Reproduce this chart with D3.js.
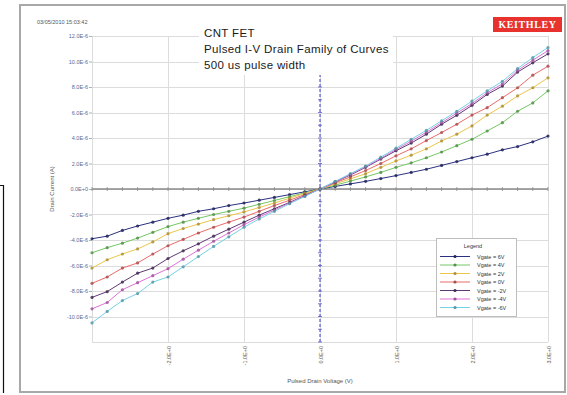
<!DOCTYPE html>
<html>
<head>
<meta charset="utf-8">
<script src="https://cdn.jsdelivr.net/npm/d3@7"></script>
<style>
  html, body { margin: 0; padding: 0; background: #fff; }
  svg { display: block; font-family: "Liberation Sans", Arial, sans-serif; }
</style>
</head>
<body>
<svg id="chart" width="567" height="395"></svg>
<script>
// Drain voltage sweep (V)
const drainVoltage = [-3.0, -2.8, -2.6, -2.4, -2.2, -2.0, -1.8, -1.6, -1.4, -1.2, -1.0,
  -0.8, -0.6, -0.4, -0.2, 0.0, 0.2, 0.4, 0.6, 0.8, 1.0,
  1.2, 1.4, 1.6, 1.8, 2.0, 2.2, 2.4, 2.6, 2.8, 3.0];

// Drain current per gate bias (µA)
const idVg6 = [-3.9, -3.7, -3.25, -2.9, -2.6, -2.3, -2.05, -1.75, -1.55, -1.3, -1.1,
  -0.88, -0.66, -0.44, -0.22, 0, 0.2, 0.4, 0.6, 0.82, 1.05,
  1.3, 1.55, 1.85, 2.15, 2.45, 2.73, 3.07, 3.33, 3.7, 4.15];
const idVg4 = [-5.0, -4.6, -4.25, -3.85, -3.4, -2.95, -2.6, -2.3, -2.0, -1.75, -1.5,
  -1.2, -0.9, -0.6, -0.3, 0, 0.3, 0.62, 0.95, 1.3, 1.7,
  2.05, 2.45, 2.9, 3.4, 3.9, 4.55, 5.2, 6.1, 6.75, 7.7];
const idVg2 = [-6.2, -5.55, -5.1, -4.7, -4.15, -3.5, -3.1, -2.75, -2.4, -2.1, -1.8,
  -1.45, -1.1, -0.72, -0.36, 0, 0.4, 0.8, 1.2, 1.7, 2.2,
  2.65, 3.15, 3.77, 4.3, 4.95, 5.8, 6.5, 7.3, 7.94, 8.72];
const idVg0 = [-7.4, -6.9, -6.2, -5.8, -5.1, -4.45, -3.95, -3.45, -3.0, -2.6, -2.2,
  -1.75, -1.3, -0.88, -0.44, 0, 0.48, 0.95, 1.45, 2.0, 2.6,
  3.15, 3.8, 4.43, 5.08, 5.8, 6.38, 7.16, 7.94, 8.93, 9.63];
const idVgm2 = [-8.5, -8.05, -7.3, -6.6, -6.2, -5.45, -4.85, -4.3, -3.7, -3.15, -2.6,
  -2.05, -1.55, -1.05, -0.52, 0, 0.55, 1.1, 1.7, 2.35, 3.0,
  3.6, 4.3, 5.08, 5.78, 6.56, 7.42, 8.07, 9.17, 9.9, 10.6];
const idVgm4 = [-9.4, -8.9, -7.9, -7.35, -6.8, -6.25, -5.5, -4.8, -4.1, -3.45, -2.8,
  -2.2, -1.65, -1.1, -0.55, 0, 0.57, 1.15, 1.75, 2.4, 3.1,
  3.75, 4.45, 5.2, 5.95, 6.7, 7.55, 8.25, 9.3, 10.1, 10.85];
const idVgm6 = [-10.5, -9.6, -8.75, -8.2, -7.3, -6.9, -6.1, -5.3, -4.5, -3.75, -3.0,
  -2.35, -1.75, -1.15, -0.58, 0, 0.6, 1.2, 1.8, 2.5, 3.2,
  3.9, 4.6, 5.35, 6.1, 6.9, 7.7, 8.45, 9.45, 10.3, 11.1];

const seriesNames = ["Vgate = 6V", "Vgate = 4V", "Vgate = 2V", "Vgate = 0V",
  "Vgate = -2V", "Vgate = -4V", "Vgate = -6V"];
const seriesValues = [idVg6, idVg4, idVg2, idVg0, idVgm2, idVgm4, idVgm6];
const seriesColors = ["#2c3180", "#74c864", "#ecc64a", "#ec6a6a", "#5e3a72", "#dc72d6", "#76d2e6"];

const xTicks = [-2, -1, 0, 1, 2, 3];
const xGrid = [-3, -2, -1, 0, 1, 2, 3];
const yTicks = [-10, -8, -6, -4, -2, 0, 2, 4, 6, 8, 10, 12];
const yGrid = [-12, -10, -8, -6, -4, -2, 0, 2, 4, 6, 8, 10, 12];

const titleLines = ["CNT FET", "Pulsed I-V Drain Family of Curves", "500 us pulse width"];
const stamp = "03/05/2010 15:03:42";

const svg = d3.select("#chart");

// page edge and window frame
svg.append("path").attr("d", "M0,185.5H3.5V393")
  .attr("fill", "none").attr("stroke", "#111").attr("stroke-width", 1.2);
svg.append("rect").attr("x", 20).attr("y", 5).attr("width", 545).attr("height", 387)
  .attr("fill", "#fff").attr("stroke", "#a8a8a8").attr("stroke-width", 2);

const x = d3.scaleLinear().domain([-3, 3]).range([92, 548]);
const y = d3.scaleLinear().domain([-12, 12]).range([342, 36]);

const fmtY = v => v === 0 ? "0.0E+0" : v.toFixed(1) + "E-6";
const fmtX = v => v.toFixed(1) + "E+0";

// grid
const grid = svg.append("g").attr("stroke", "#dcdcdc").attr("stroke-width", 1);
grid.selectAll("line.h").data(yGrid).join("line")
  .attr("x1", x(-3)).attr("x2", x(3))
  .attr("y1", d => Math.round(y(d)) + 0.5).attr("y2", d => Math.round(y(d)) + 0.5);
grid.selectAll("line.v").data(xGrid).join("line")
  .attr("y1", y(12)).attr("y2", y(-12))
  .attr("x1", d => Math.round(x(d)) + 0.5).attr("x2", d => Math.round(x(d)) + 0.5);

// y axis labels
const yAxis = d3.axisLeft(y).tickValues(yTicks).tickFormat(fmtY).tickSize(3).tickPadding(1);
const gy = svg.append("g").attr("transform", `translate(${x(-3)},0)`).call(yAxis);
gy.select(".domain").remove();
gy.selectAll(".tick line").attr("stroke", "#b0b0b0");
gy.selectAll("text").attr("font-size", 5.5).attr("fill", "#5a6894");

// x axis labels, rotated
const xAxis = d3.axisBottom(x).tickValues(xTicks).tickFormat(fmtX).tickSize(0);
const gx = svg.append("g").attr("transform", `translate(0,${y(-12)})`).call(xAxis);
gx.select(".domain").remove();
gx.selectAll("text").attr("font-size", 5.5).attr("fill", "#555")
  .attr("text-anchor", "end").attr("dy", null)
  .attr("transform", "translate(2,4) rotate(-90)")
  .attr("x", 0).attr("y", 0);

// axis titles
svg.append("text").attr("x", 320).attr("y", 383).attr("text-anchor", "middle")
  .attr("font-size", 6).attr("fill", "#555").text("Pulsed Drain Voltage (V)");
svg.append("text").attr("transform", "translate(54,189) rotate(-90)")
  .attr("text-anchor", "middle").attr("font-size", 6).attr("fill", "#555")
  .text("Drain Current (A)");

// zero axes
svg.append("line").attr("x1", x(-3)).attr("x2", x(3))
  .attr("y1", y(0)).attr("y2", y(0)).attr("stroke", "#8a8a8a").attr("stroke-width", 1.5);
const xMinor = d3.range(-15, 16).map(i => i * 0.2);
svg.append("g").selectAll("line").data(xMinor).join("line")
  .attr("x1", d => x(d)).attr("x2", d => x(d))
  .attr("y1", y(0) - 2).attr("y2", y(0) + 2).attr("stroke", "#8a8a8a").attr("stroke-width", 0.8);
svg.append("line").attr("x1", x(0)).attr("x2", x(0))
  .attr("y1", y(-12)).attr("y2", y(12))
  .attr("stroke", "#3a3ad0").attr("stroke-width", 1).attr("stroke-dasharray", "3,2");
const yMinor = d3.range(-12, 13);
svg.append("g").selectAll("line").data(yMinor).join("line")
  .attr("x1", x(0) - 2).attr("x2", x(0) + 2)
  .attr("y1", d => y(d)).attr("y2", d => y(d)).attr("stroke", "#5a5ad0").attr("stroke-width", 0.8);

// curves
const line = d3.line().x((d, i) => x(drainVoltage[i])).y(d => y(d));
const curves = svg.append("g");
seriesValues.forEach((vals, s) => {
  curves.append("path").datum(vals).attr("d", line)
    .attr("fill", "none").attr("stroke", seriesColors[s]).attr("stroke-width", 1);
});
seriesValues.forEach((vals, s) => {
  const c = d3.color(seriesColors[s]).darker(0.9);
  curves.append("g").selectAll("circle").data(vals).join("circle")
    .attr("cx", (d, i) => x(drainVoltage[i])).attr("cy", d => y(d)).attr("r", 1.6)
    .attr("fill", c).attr("opacity", 0.85);
});

// title block
svg.append("rect").attr("x", 199).attr("y", 24).attr("width", 194).attr("height", 51).attr("fill", "#fff");
svg.append("g").selectAll("text").data(titleLines).join("text")
  .attr("x", 204).attr("y", (d, i) => 37 + i * 16)
  .attr("font-size", 11.5).attr("letter-spacing", 0.35).attr("fill", "#1a1a1a").text(d => d);

// time stamp
svg.append("text").attr("x", 37).attr("y", 24).attr("font-size", 5.5).attr("fill", "#555").text(stamp);

// logo
svg.append("rect").attr("x", 493).attr("y", 17).attr("width", 69).attr("height", 15).attr("fill", "#e8322e");
svg.append("text").attr("x", 527.5).attr("y", 28).attr("text-anchor", "middle")
  .attr("font-family", "Liberation Serif, serif").attr("font-size", 10).attr("font-weight", "bold")
  .attr("letter-spacing", 0.6).attr("fill", "#fff").text("KEITHLEY");

// legend
const lg = svg.append("g");
lg.append("rect").attr("x", 436.5).attr("y", 238.5).attr("width", 80).attr("height", 78)
  .attr("fill", "#fff").attr("stroke", "#bdbdbd").attr("stroke-width", 1);
lg.append("text").attr("x", 473).attr("y", 248).attr("text-anchor", "middle")
  .attr("font-size", 5.5).attr("fill", "#333").text("Legend");
seriesNames.forEach((name, s) => {
  const yy = 256.5 + s * 8.5;
  lg.append("line").attr("x1", 440).attr("x2", 470).attr("y1", yy).attr("y2", yy)
    .attr("stroke", seriesColors[s]).attr("stroke-width", 1);
  lg.append("circle").attr("cx", 455).attr("cy", yy).attr("r", 1.6)
    .attr("fill", d3.color(seriesColors[s]).darker(0.9));
  lg.append("text").attr("x", 477).attr("y", yy + 2).attr("font-size", 5.5)
    .attr("fill", "#333").text(name);
});
</script>
</body>
</html>
